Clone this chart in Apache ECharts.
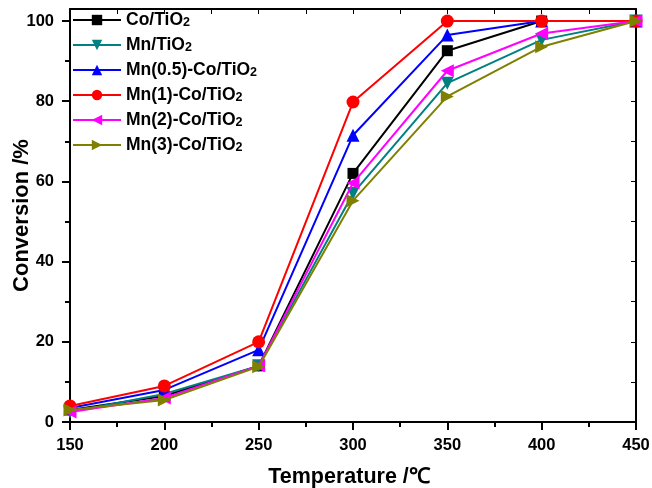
<!DOCTYPE html>
<html>
<head>
<meta charset="utf-8">
<script src="https://cdn.jsdelivr.net/npm/echarts@6/dist/echarts.min.js"></script>
<style>html,body{margin:0;padding:0;background:#fff}#c{width:652px;height:488px}</style>
</head>
<body>
<div id="c"></div>
<script>
var temperatures = [150, 200, 250, 300, 350, 400, 450];
var coTiO2 = [3, 6.5, 14, 62, 92.6, 100, 100];
var mnTiO2 = [2.5, 7, 14, 57, 84.5, 95.3, 100];
var mn05CoTiO2 = [3.5, 8, 18, 71.5, 96.5, 100, 100];
var mn1CoTiO2 = [4, 9, 20, 79.8, 100, 100, 100];
var mn2CoTiO2 = [2.5, 6, 14, 59.6, 87.6, 96.9, 100];
var mn3CoTiO2 = [3, 5.5, 13.8, 55.2, 81.2, 93.6, 100];
var seriesNames = ['Co/TiO2', 'Mn/TiO2', 'Mn(0.5)-Co/TiO2', 'Mn(1)-Co/TiO2', 'Mn(2)-Co/TiO2', 'Mn(3)-Co/TiO2'];
var yMajorTicks = [0, 20, 40, 60, 80, 100];
var yMinorTicks = [10, 30, 50, 70, 90];
var yRightTicks = [0, 10, 20, 30, 40, 50, 60, 70, 80, 90, 100];

var seriesData = [coTiO2, mnTiO2, mn05CoTiO2, mn1CoTiO2, mn2CoTiO2, mn3CoTiO2];
var colors = ['#000000', '#008080', '#0000FF', '#FF0000', '#FF00FF', '#808000'];
var symbols = ['rect', 'triangle', 'triangle', 'circle', 'triangle', 'triangle'];
var rotates = [0, 180, 0, 0, 90, -90];
var sizes = [11, 13, 13, 13, 13, 13];

var FONT = 'Liberation Sans, Arial, sans-serif';
var chart = echarts.init(document.getElementById('c'), null, {renderer: 'canvas'});

var series = seriesNames.map(function (name, i) {
  return {
    name: name,
    type: 'line',
    xAxisIndex: 0,
    yAxisIndex: 0,
    data: temperatures.map(function (t, j) { return [t, seriesData[i][j]]; }),
    symbol: symbols[i],
    symbolRotate: rotates[i],
    symbolSize: sizes[i],
    showAllSymbol: true,
    lineStyle: {color: colors[i], width: 2},
    itemStyle: {color: colors[i], borderWidth: 0},
    animation: false,
    z: 2 + i
  };
});

var option = {
  backgroundColor: '#fff',
  animation: false,
  color: colors,
  grid: {left: 70, top: 9, right: 16, bottom: 66, containLabel: false, outerBoundsMode: 'none'},
  legend: {
    orient: 'vertical',
    left: 67,
    top: 6,
    itemWidth: 48,
    itemHeight: 13,
    itemGap: 6.5,
    symbolRotate: 'inherit',
    data: seriesNames,
    formatter: function (n) {
      return '{a|' + n.slice(0, -1) + '}{s|2}';
    },
    textStyle: {
      rich: {
        a: {fontFamily: FONT, fontWeight: 'bold', fontSize: 17.5, color: '#000'},
        s: {fontFamily: FONT, fontWeight: 'bold', fontSize: 12.5, color: '#000', verticalAlign: 'bottom', padding: [6, 0, 0, 0]}
      }
    }
  },
  xAxis: [
    {
      type: 'value', min: 150, max: 450, interval: 50, position: 'bottom',
      name: 'Temperature /\u2103', nameLocation: 'middle', nameGap: 44,
      nameTextStyle: {fontFamily: FONT, fontWeight: 'bold', fontSize: 21.5, color: '#000', padding: [0, 8, 0, 0]},
      axisLine: {show: true, onZero: false, lineStyle: {color: '#000', width: 2}},
      axisTick: {show: true, inside: false, length: 8, lineStyle: {color: '#000', width: 2}},
      minorTick: {show: true, splitNumber: 2, length: 5, lineStyle: {color: '#000', width: 2}},
      axisLabel: {fontFamily: FONT, fontWeight: 'bold', fontSize: 16.5, color: '#000', margin: 15},
      splitLine: {show: false}
    },
    {
      type: 'value', min: 150, max: 450, interval: 25, position: 'top',
      axisLine: {show: true, onZero: false, lineStyle: {color: '#000', width: 2}},
      axisTick: {show: true, inside: true, length: 5, lineStyle: {color: '#000', width: 1}},
      axisLabel: {show: false},
      splitLine: {show: false}
    }
  ],
  yAxis: [
    {
      type: 'value', min: 0, max: 103, position: 'left',
      name: 'Conversion /%', nameLocation: 'middle', nameGap: 37, nameRotate: 90, nameMoveOverlap: false,
      nameTextStyle: {fontFamily: FONT, fontWeight: 'bold', fontSize: 22, color: '#000'},
      axisLine: {show: true, onZero: false, lineStyle: {color: '#000', width: 2}},
      axisTick: {show: true, inside: false, length: 8, customValues: yMajorTicks, lineStyle: {color: '#000', width: 2}},
      axisLabel: {fontFamily: FONT, fontWeight: 'bold', fontSize: 16.5, color: '#000', margin: 16, customValues: yMajorTicks},
      splitLine: {show: false}
    },
    {
      type: 'value', min: 0, max: 103, position: 'left',
      axisLine: {show: false},
      axisTick: {show: true, inside: false, length: 5, customValues: yMinorTicks, lineStyle: {color: '#000', width: 2}},
      axisLabel: {show: false},
      splitLine: {show: false}
    },
    {
      type: 'value', min: 0, max: 103, position: 'right',
      axisLine: {show: true, onZero: false, lineStyle: {color: '#000', width: 2}},
      axisTick: {show: true, inside: true, length: 5, customValues: yRightTicks, lineStyle: {color: '#000', width: 1}},
      axisLabel: {show: false},
      splitLine: {show: false}
    }
  ],
  series: series
};
chart.setOption(option);
</script>
</body>
</html>
